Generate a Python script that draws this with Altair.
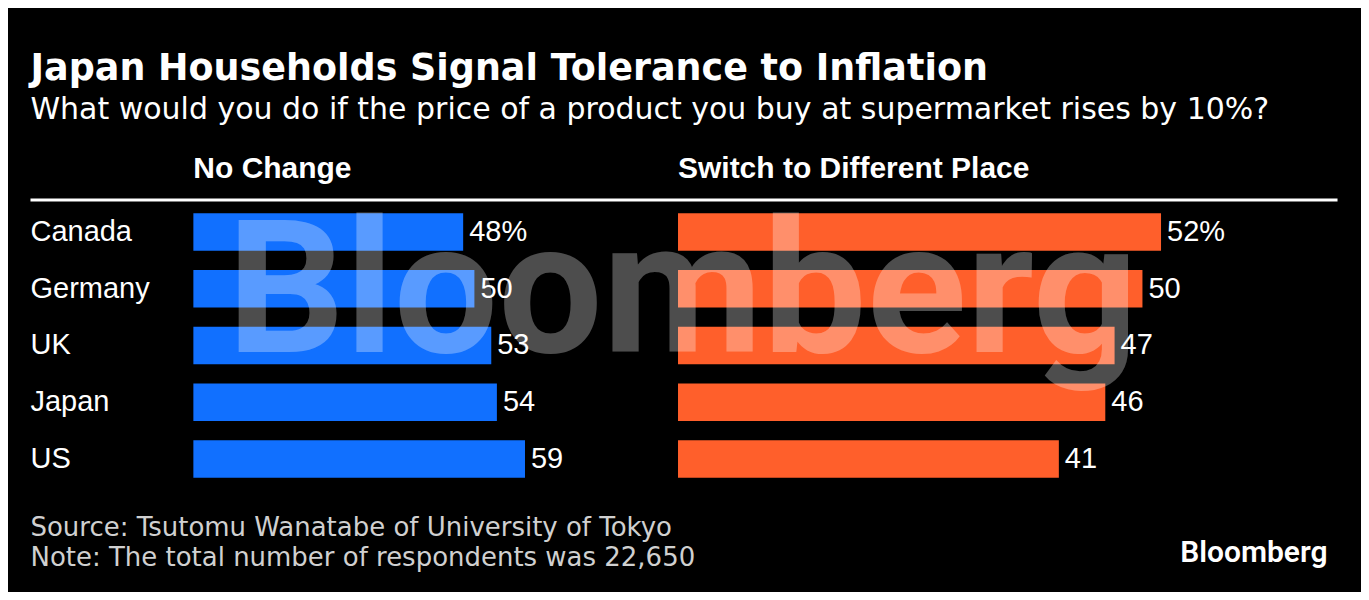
import altair as alt
import pandas as pd

countries = ["Canada", "Germany", "UK", "Japan", "US"]
no_change = [48, 50, 53, 54, 59]
switch_place = [52, 50, 47, 46, 41]

title_text = "Japan Households Signal Tolerance to Inflation"
subtitle_text = "What would you do if the price of a product you buy at supermarket rises by 10%?"
header_left = "No Change"
header_right = "Switch to Different Place"
source_text = "Source: Tsutomu Wanatabe of University of Tokyo"
note_text = "Note: The total number of respondents was 22,650"
logo_text = "Bloomberg"

BLUE = "#1170ff"
ORANGE = "#ff5f2b"
LABEL_FONT = "Liberation Sans"


def make_labels(vals):
    return [f"{v}%" if i == 0 else str(v) for i, v in enumerate(vals)]


left_df = pd.DataFrame({"country": countries, "value": no_change, "label": make_labels(no_change)})
right_df = pd.DataFrame({"country": countries, "value": switch_place, "label": make_labels(switch_place)})

H = 284
WL, WR = 450, 660
GAP = 35
LEFT_OFF = -163

y_enc = alt.Y("country:N", sort=countries, axis=None,
              scale=alt.Scale(paddingInner=0.34, paddingOuter=0.17))


def text_layer(txt, **kw):
    enc = {}
    for k in ("x", "y"):
        if k in kw:
            enc[k] = alt.value(kw.pop(k))
    return alt.Chart(pd.DataFrame({"t": [txt]})).mark_text(**kw).encode(text="t:N", **enc)


def bars_and_values(df, color, dom):
    x = alt.X("value:Q", axis=None, scale=alt.Scale(domain=[0, dom]))
    base = alt.Chart(df)
    bars = base.mark_bar(color=color).encode(x=x, y=y_enc)
    vals = base.mark_text(align="left", baseline="middle", dx=6, font=LABEL_FONT,
                          fontSize=29, color="white").encode(x=x, y=y_enc, text="label:N")
    return bars, vals


lb, lv = bars_and_values(left_df, BLUE, 80)
country_labels = alt.Chart(left_df).mark_text(
    align="left", baseline="middle", font=LABEL_FONT, fontSize=29, color="white"
).encode(x=alt.value(LEFT_OFF), y=y_enc, text="country:N")

rule = alt.Chart(pd.DataFrame({"a": [0]})).mark_rule(color="white", strokeWidth=3).encode(
    x=alt.value(LEFT_OFF), x2=alt.value(WL + GAP + WR), y=alt.value(-3.5)
)

title = text_layer(title_text, x=LEFT_OFF, y=-123.6, align="left", baseline="alphabetic",
                   font="DejaVu Sans", fontSize=36.5, fontWeight="bold", color="white")
subtitle = text_layer(subtitle_text, x=LEFT_OFF, y=-84.6, align="left", baseline="alphabetic",
                      font="DejaVu Sans", fontSize=30, color="white")
head_l = text_layer(header_left, x=0, y=-25.6, align="left", baseline="alphabetic",
                    font=LABEL_FONT, fontSize=30, fontWeight="bold", color="white")
source = text_layer(source_text, x=LEFT_OFF, y=332.4, align="left", baseline="alphabetic",
                    font="DejaVu Sans", fontSize=26, color="#d0d0d0")
note = text_layer(note_text, x=LEFT_OFF, y=362.4, align="left", baseline="alphabetic",
                  font="DejaVu Sans", fontSize=26, color="#d0d0d0")

left = alt.layer(rule, lb, lv, country_labels, title, subtitle, head_l, source, note).properties(
    width=WL, height=H)

rb, rv = bars_and_values(right_df, ORANGE, 71)
head_r = text_layer(header_right, x=0, y=-25.6, align="left", baseline="alphabetic",
                    font=LABEL_FONT, fontSize=30, fontWeight="bold", color="white")
logo = text_layer(logo_text, x=WR - 10, y=358.4, align="right", baseline="alphabetic",
                  font="Roboto", fontSize=30, fontWeight=600, color="white")
watermark = text_layer("Bloomberg", x=4.5, y=148.4, align="center", baseline="alphabetic",
                       font="Roboto", fontSize=185, fontWeight="bold", color="white", opacity=0.3)

right = alt.layer(rb, rv, head_r, logo, watermark).properties(width=WR, height=H)

chart = alt.hconcat(left, right, spacing=GAP, bounds="flush").properties(
    padding={"left": 20.5, "top": 42.5, "right": 21.5, "bottom": 20},
    background="black",
).configure_view(stroke=None)

chart.save("out.html", embed_options={"renderer": "svg", "actions": False})
